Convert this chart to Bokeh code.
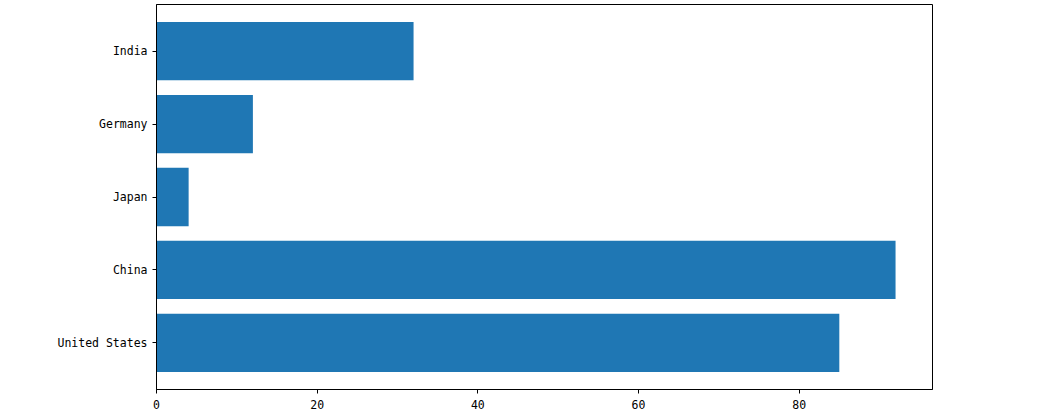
from bokeh.plotting import figure
from bokeh.models import FixedTicker, Range1d
from bokeh.embed import file_html
from bokeh.resources import INLINE

countries = ["United States", "China", "Japan", "Germany", "India"]
values = [85, 92, 4, 12, 32]
x_ticks = [0, 20, 40, 60, 80]

positions = list(range(len(countries)))

p = figure(width=942, height=413, output_backend="svg", toolbar_location=None,
           x_range=Range1d(0, 96.6), y_range=Range1d(-0.64, 4.64),
           min_border_left=156, min_border_right=10, min_border_top=4, min_border_bottom=24)

p.hbar(y=positions, right=values, left=0, height=0.8, color="#1f77b4", line_color=None)

p.xgrid.visible = False
p.ygrid.visible = False
p.outline_line_color = "black"
p.outline_line_width = 1
p.outline_line_alpha = 1

font = "DejaVu Sans Mono"
for ax in (p.xaxis[0], p.yaxis[0]):
    ax.axis_line_color = "black"
    ax.axis_line_width = 1
    ax.major_tick_line_color = "black"
    ax.major_tick_line_width = 1
    ax.major_tick_out = 4
    ax.major_tick_in = 0
    ax.minor_tick_line_color = None
    ax.major_label_text_font = font
    ax.major_label_text_font_size = "11.5px"
    ax.major_label_text_color = "black"

p.xaxis[0].ticker = FixedTicker(ticks=x_ticks)
p.xaxis[0].major_label_standoff = 6
p.yaxis[0].ticker = FixedTicker(ticks=positions)
p.yaxis[0].major_label_overrides = {i: c for i, c in zip(positions, countries)}
p.yaxis[0].major_label_standoff = 5

open("out.html", "w").write(file_html(p, INLINE))
